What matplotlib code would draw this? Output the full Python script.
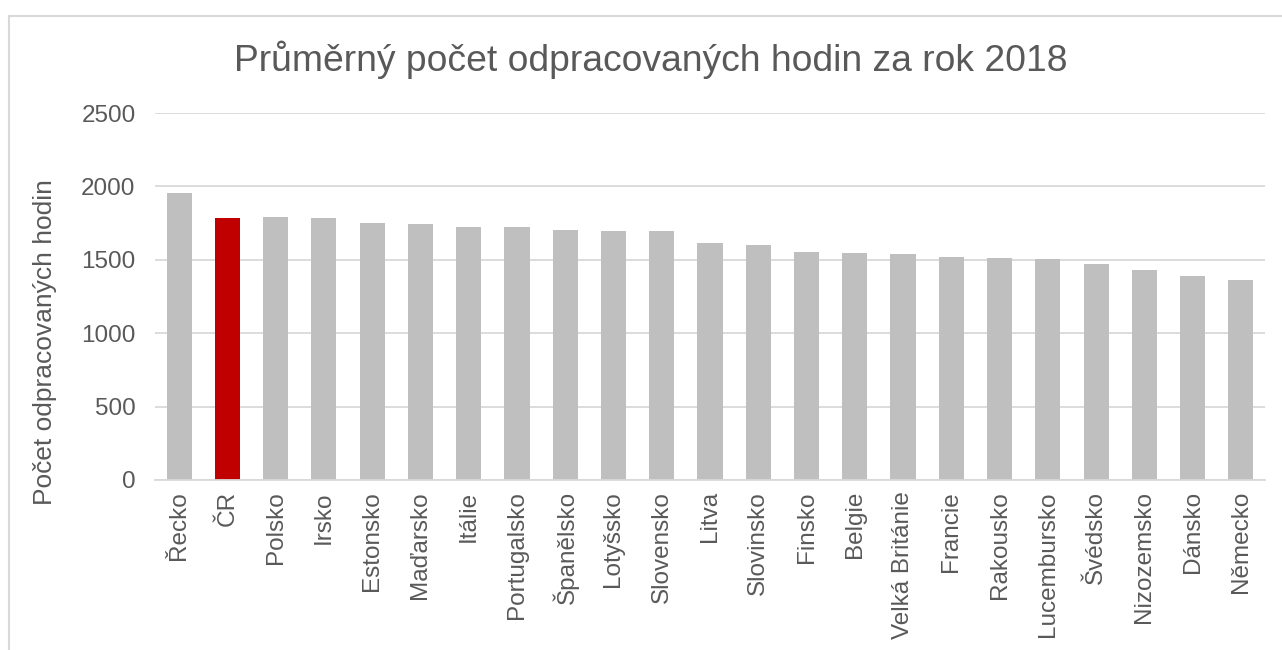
import matplotlib.pyplot as plt
from matplotlib.patches import Rectangle

# data
zeme = ['Řecko', 'ČR', 'Polsko', 'Irsko', 'Estonsko', 'Maďarsko', 'Itálie',
        'Portugalsko', 'Španělsko', 'Lotyšsko', 'Slovensko', 'Litva',
        'Slovinsko', 'Finsko', 'Belgie', 'Velká Británie', 'Francie',
        'Rakousko', 'Lucembursko', 'Švédsko', 'Nizozemsko', 'Dánsko', 'Německo']
hodiny = [1956, 1788, 1792, 1782, 1748, 1741, 1723, 1722, 1701, 1699, 1698,
          1616, 1604, 1555, 1545, 1538, 1520, 1511, 1506, 1474, 1433, 1392, 1363]
zvyraznit = 'ČR'

plt.rcParams['font.family'] = ['Liberation Sans', 'DejaVu Sans']
seda_text = '#595959'
seda_mrizka = '#D9D9D9'

fig = plt.figure(figsize=(12.82, 6.5), dpi=100)

# ramecek grafu
fig.patches.append(Rectangle((9 / 1282, -0.1), 1.2, 1 - 16 / 650 + 0.1,
                             transform=fig.transFigure, fill=False,
                             edgecolor=seda_mrizka, linewidth=1.5))

ax = fig.add_axes([155 / 1282, 1 - 480 / 650, 1110 / 1282, 367 / 650])

barvy = ['#C00000' if z == zvyraznit else '#BFBFBF' for z in zeme]
ax.bar(range(len(zeme)), hodiny, width=0.52, color=barvy, zorder=3)

ax.set_xlim(-0.5, len(zeme) - 0.5)
ax.set_ylim(0, 2500)
ax.set_yticks(range(0, 2501, 500))
ax.yaxis.grid(True, color=seda_mrizka, linewidth=1.3, zorder=0)

ax.set_xticks(range(len(zeme)))
ax.set_xticklabels(zeme, rotation=90, fontsize=17.5, color=seda_text)
ax.tick_params(axis='y', labelsize=17.5, labelcolor=seda_text, length=0, pad=14)
ax.tick_params(axis='x', length=0, pad=8)

for s in ['top', 'right', 'left']:
    ax.spines[s].set_visible(False)
ax.spines['bottom'].set_color(seda_mrizka)
ax.spines['bottom'].set_linewidth(1.3)
ax.spines['bottom'].set_zorder(4)

ax.set_ylabel('Počet odpracovaných hodin', fontsize=19, color=seda_text)
ax.yaxis.set_label_coords(-0.088, 0.376)

fig.text(651 / 1282, 1 - 60 / 650, 'Průměrný počet odpracovaných hodin za rok 2018',
         ha='center', va='center', fontsize=26.8, color=seda_text)

fig.savefig('out.png', dpi=100, facecolor='white')
